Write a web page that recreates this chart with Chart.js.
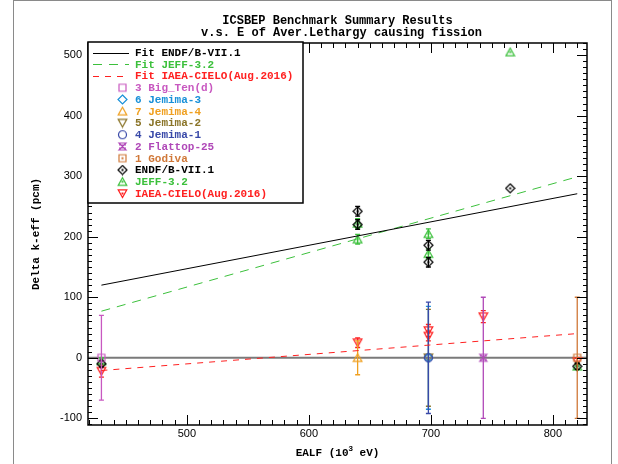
<!DOCTYPE html>
<html>
<head>
<meta charset="utf-8">
<script src="https://cdn.jsdelivr.net/npm/chart.js@4"></script>
<style>
  html, body { margin: 0; background: #fff; }
</style>
</head>
<body>
<canvas id="chart" width="618" height="464"></canvas>
<script>
// ---------------- DATA ----------------
const xTicks = [500, 600, 700, 800];
const yTicks = [-100, 0, 100, 200, 300, 400, 500];
const xRange = [419, 828];
const yRange = [-111, 520];

// linear fits (end points)
const fitX = [430, 820];
const fitEndf = [120, 271];
const fitJeff = [77, 299];
const fitCielo = [-21, 40];

// C/E - 1 per library
const endfX = [430, 640, 640, 698, 698, 765, 820];
const endfY = [-10, 242, 220, 186, 158, 280, -14];
const endfErr = [5, 8, 8, 8, 8, 0, 5];

const jeffX = [430, 640, 640, 698, 698, 765, 820];
const jeffY = [-5, 222, 196, 205, 172, 505, -14];
const jeffErr = [5, 8, 8, 8, 8, 0, 5];

const cieloX = [430, 640, 698, 698, 743, 820];
const cieloY = [-22, 25, 45, 36, 68, -6];
const cieloErr = [10, 8, 10, 8, 10, 5];

// benchmark experimental uncertainty (centred on 0)
const benchNames = ["3 Big_Ten(d)", "6 Jemima-3", "7 Jemima-4", "5 Jemima-2", "4 Jemima-1", "2 Flattop-25", "1 Godiva"];
const benchX = [430, 698, 640, 698, 698, 743, 820];
const benchErr = [70, 85, 28, 80, 92, 100, 100];
const benchColors = ["#c858c0", "#1890d8", "#f0a020", "#8a7428", "#3848a8", "#b048b8", "#d07838"];
const benchShapes = ["square", "diamond", "up", "down", "circle", "bowtie", "squaredot"];
const benchOrder = [0, 2, 0, 2, 0, 0, 0];

// ---------------- MARKERS ----------------
function marker(shape, color, dot) {
  const c = document.createElement("canvas");
  c.width = 11;
  c.height = 11;
  const g = c.getContext("2d");
  g.strokeStyle = color;
  g.fillStyle = color;
  g.lineWidth = 1.2;
  g.beginPath();
  const m = 5.5;
  if (shape === "square" || shape === "squaredot") g.rect(2, 2, 7, 7);
  else if (shape === "diamond") {
    g.moveTo(m, 1); g.lineTo(10, m); g.lineTo(m, 10); g.lineTo(1, m); g.closePath();
  } else if (shape === "up") {
    g.moveTo(m, 1.5); g.lineTo(9.8, 9.2); g.lineTo(1.2, 9.2); g.closePath();
  } else if (shape === "down") {
    g.moveTo(1.2, 1.8); g.lineTo(9.8, 1.8); g.lineTo(m, 9.5); g.closePath();
  } else if (shape === "circle") g.arc(m, m, 4, 0, Math.PI * 2);
  else if (shape === "bowtie") {
    g.moveTo(2, 2); g.lineTo(9, 2); g.lineTo(2, 9); g.lineTo(9, 9); g.closePath();
    g.moveTo(2, 4); g.lineTo(9, 4); g.moveTo(2, 7); g.lineTo(9, 7);
  }
  g.stroke();
  if (dot || shape === "squaredot") g.fillRect(4.5, 4.5, 2, 2);
  return c;
}

const pts = (xs, ys) => xs.map((x, i) => ({ x, y: ys[i] }));

// ---------------- DATASETS ----------------
const datasets = [];

// fits
datasets.push({
  type: "line", label: "Fit ENDF/B-VII.1", data: pts(fitX, fitEndf),
  borderColor: "#000", borderWidth: 1, pointRadius: 0, legendLine: [],
});
datasets.push({
  type: "line", label: "Fit JEFF-3.2", data: pts(fitX, fitJeff),
  borderColor: "#3cc03c", borderWidth: 1, borderDash: [9, 7], pointRadius: 0, legendLine: [9, 7],
});
datasets.push({
  type: "line", label: "Fit IAEA-CIELO(Aug.2016)", data: pts(fitX, fitCielo),
  borderColor: "#ff2020", borderWidth: 1, borderDash: [6, 6], pointRadius: 0, legendLine: [6, 6],
});

// benchmarks
benchNames.forEach((name, i) => {
  datasets.push({
    type: "scatter", label: name, data: [{ x: benchX[i], y: 0 }], err: [benchErr[i]],
    order: benchOrder[i],
    borderColor: benchColors[i], pointStyle: marker(benchShapes[i], benchColors[i]), legendMarker: true,
  });
});

// libraries
datasets.push({
  type: "scatter", label: "ENDF/B-VII.1", data: pts(endfX, endfY), err: endfErr,
  borderColor: "#000", pointStyle: marker("diamond", "#000", true), legendMarker: true,
});
datasets.push({
  type: "scatter", label: "JEFF-3.2", data: pts(jeffX, jeffY), err: jeffErr,
  borderColor: "#3cc03c", pointStyle: marker("up", "#3cc03c", true), legendMarker: true,
});
datasets.push({
  type: "scatter", label: "IAEA-CIELO(Aug.2016)", data: pts(cieloX, cieloY), err: cieloErr,
  borderColor: "#ff2020", pointStyle: marker("down", "#ff2020", true), legendMarker: true,
});

// zero reference
datasets.push({
  type: "line", label: "zero", data: pts(xRange, [0, 0]), order: 1,
  borderColor: "#7a7a7a", borderWidth: 2, pointRadius: 0, noLegend: true,
});

// ---------------- PLUGINS ----------------
const MONO = "bold 11px 'Liberation Mono', 'DejaVu Sans Mono', monospace";

const errorBars = {
  id: "errorBars",
  afterDatasetDraw(chart, args) {
    const ds = chart.data.datasets[args.index];
    if (!ds.err) return;
    const ctx = chart.ctx;
    const ys = chart.scales.y;
    ctx.save();
    ctx.strokeStyle = ds.borderColor;
    ctx.lineWidth = 1.3;
    args.meta.data.forEach((pt, j) => {
      const e = ds.err[j];
      if (!e) return;
      const v = ds.data[j].y;
      const y1 = ys.getPixelForValue(v + e);
      const y2 = ys.getPixelForValue(v - e);
      ctx.beginPath();
      ctx.moveTo(pt.x, y1); ctx.lineTo(pt.x, y2);
      ctx.moveTo(pt.x - 2.5, y1); ctx.lineTo(pt.x + 2.5, y1);
      ctx.moveTo(pt.x - 2.5, y2); ctx.lineTo(pt.x + 2.5, y2);
      ctx.stroke();
    });
    ctx.restore();
  },
};

const frame = {
  id: "frame",
  afterDraw(chart) {
    const ctx = chart.ctx;
    const a = chart.chartArea;
    const xs = chart.scales.x;
    const ys = chart.scales.y;
    ctx.save();

    // outer page frame
    ctx.strokeStyle = "#8a8a8a";
    ctx.lineWidth = 1;
    ctx.strokeRect(13.5, 0.5, 598, 470);

    // axes box
    ctx.strokeStyle = "#000";
    ctx.lineWidth = 1.5;
    ctx.strokeRect(a.left, a.top, a.right - a.left, a.bottom - a.top);

    // inward ticks on all four sides
    ctx.lineWidth = 1;
    ctx.beginPath();
    for (let v = 420; v <= xRange[1]; v += 10) {
      const len = v % 100 === 0 ? 10 : 5;
      const px = Math.round(xs.getPixelForValue(v)) + 0.5;
      ctx.moveTo(px, a.bottom); ctx.lineTo(px, a.bottom - len);
      ctx.moveTo(px, a.top); ctx.lineTo(px, a.top + len);
    }
    for (let v = -110; v <= yRange[1]; v += 10) {
      const len = v % 100 === 0 ? 10 : 4;
      const py = Math.round(ys.getPixelForValue(v)) + 0.5;
      ctx.moveTo(a.left, py); ctx.lineTo(a.left + len, py);
      ctx.moveTo(a.right, py); ctx.lineTo(a.right - len, py);
    }
    ctx.stroke();

    // titles
    ctx.fillStyle = "#000";
    ctx.font = "bold 12px 'Liberation Mono', 'DejaVu Sans Mono', monospace";
    ctx.textAlign = "center";
    ctx.textBaseline = "middle";
    const cx = (a.left + a.right) / 2;
    ctx.fillText("ICSBEP Benchmark Summary Results", cx, 21);
    ctx.fillText("v.s. E of Aver.Lethargy causing fission", cx + 4, 33);

    // x title with superscript
    ctx.font = MONO;
    const t1 = "EALF (10", t2 = "3", t3 = " eV)";
    const w1 = ctx.measureText(t1).width, w3 = ctx.measureText(t3).width;
    ctx.font = "bold 8px 'Liberation Sans', sans-serif";
    const w2 = ctx.measureText(t2).width;
    let x0 = cx - (w1 + w2 + w3) / 2;
    ctx.textAlign = "left";
    ctx.font = MONO;
    ctx.fillText(t1, x0, 453);
    ctx.font = "bold 8px 'Liberation Sans', sans-serif";
    ctx.fillText(t2, x0 + w1, 449);
    ctx.font = MONO;
    ctx.fillText(t3, x0 + w1 + w2, 453);

    // y title
    ctx.save();
    ctx.translate(36, (a.top + a.bottom) / 2);
    ctx.rotate(-Math.PI / 2);
    ctx.textAlign = "center";
    ctx.fillText("Delta k-eff (pcm)", 0, 0);
    ctx.restore();

    // legend box
    const lx = a.left, ly = a.top - 1, lw = 215, lh = 161;
    ctx.fillStyle = "#fff";
    ctx.fillRect(lx, ly, lw, lh);
    ctx.strokeStyle = "#000";
    ctx.lineWidth = 1.5;
    ctx.strokeRect(lx, ly, lw, lh);

    ctx.font = MONO;
    ctx.textAlign = "left";
    let row = 0;
    chart.data.datasets.forEach((ds) => {
      if (ds.noLegend) return;
      const y = 52.5 + row * 11.75;
      if (ds.legendLine) {
        ctx.strokeStyle = ds.borderColor;
        ctx.lineWidth = 1;
        ctx.setLineDash(ds.legendLine);
        ctx.beginPath();
        ctx.moveTo(lx + 5, Math.round(y) + 0.5);
        ctx.lineTo(lx + 41, Math.round(y) + 0.5);
        ctx.stroke();
        ctx.setLineDash([]);
      } else if (ds.legendMarker) {
        ctx.drawImage(ds.pointStyle, lx + 29, y - 5.5);
      }
      ctx.fillStyle = ds.borderColor;
      ctx.fillText(ds.label, lx + 47, y + 0.5);
      row++;
    });
    ctx.restore();
  },
};

// ---------------- CHART ----------------
new Chart(document.getElementById("chart"), {
  data: { datasets },
  options: {
    responsive: false,
    animation: false,
    layout: { padding: { top: 43, right: 31, left: 0, bottom: 0 } },
    plugins: { legend: { display: false }, tooltip: { enabled: false } },
    scales: {
      x: {
        type: "linear",
        min: xRange[0],
        max: xRange[1],
        grid: { display: false, drawTicks: false },
        border: { display: false },
        afterBuildTicks: (s) => { s.ticks = xTicks.map((v) => ({ value: v })); },
        afterFit: (s) => { s.height = 39; },
        ticks: { padding: 2, color: "#000", font: { family: "'Liberation Sans', sans-serif", size: 11 } },
      },
      y: {
        type: "linear",
        min: yRange[0],
        max: yRange[1],
        grid: { display: false, drawTicks: false },
        border: { display: false },
        afterBuildTicks: (s) => { s.ticks = yTicks.map((v) => ({ value: v })); },
        afterFit: (s) => { s.width = 88; },
        ticks: { padding: 6, color: "#000", font: { family: "'Liberation Sans', sans-serif", size: 11 } },
      },
    },
  },
  plugins: [errorBars, frame],
});
</script>
</body>
</html>
